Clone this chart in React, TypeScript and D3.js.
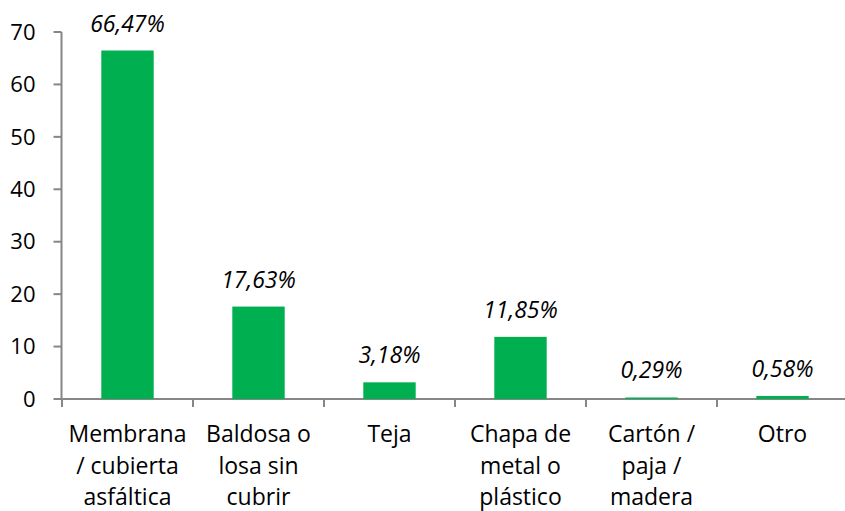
import React, { useRef, useEffect } from 'react';
import * as d3 from 'd3';

const categories = [
  'Membrana\n/ cubierta\nasfáltica',
  'Baldosa o\nlosa sin\ncubrir',
  'Teja',
  'Chapa de\nmetal o\nplástico',
  'Cartón /\npaja /\nmadera',
  'Otro',
];
const values = [66.47, 17.63, 3.18, 11.85, 0.29, 0.58];
const valueLabels = ['66,47%', '17,63%', '3,18%', '11,85%', '0,29%', '0,58%'];
const yTicks = [0, 10, 20, 30, 40, 50, 60, 70];

const WIDTH = 845;
const HEIGHT = 511;
const FONT = "'Open Sans', 'Liberation Sans', sans-serif";
const FS = 23;

const App = () => {
  const svgRef = useRef<SVGSVGElement | null>(null);

  useEffect(() => {
    if (!svgRef.current) return;
    const svg = d3.select(svgRef.current);
    svg.selectAll('*').remove();

    const x = d3.scaleBand<number>()
      .domain(d3.range(categories.length))
      .range([62, 848])
      .paddingInner(0.6)
      .paddingOuter(0.3);

    const y = d3.scaleLinear().domain([0, 70]).range([399, 32]);

    const axisColor = '#868686';

    // y axis
    const yAxis = svg.append('g').attr('transform', 'translate(61.5,0)');
    yAxis.append('line')
      .attr('y1', y(70)).attr('y2', y(0))
      .attr('stroke', axisColor).attr('stroke-width', 2);
    yTicks.forEach(t => {
      yAxis.append('line')
        .attr('x1', -8).attr('x2', 0)
        .attr('y1', y(t)).attr('y2', y(t))
        .attr('stroke', axisColor).attr('stroke-width', 2);
      yAxis.append('text')
        .attr('x', -26)
        .attr('y', y(t))
        .attr('dy', '0.35em')
        .attr('text-anchor', 'end')
        .attr('font-family', FONT)
        .attr('font-size', FS - 1)
        .attr('fill', '#000')
        .text(t);
    });

    // x axis
    const step = x.step();
    const xStart = x.range()[0];
    const xAxis = svg.append('g');
    xAxis.append('line')
      .attr('x1', xStart).attr('x2', WIDTH)
      .attr('y1', y(0)).attr('y2', y(0))
      .attr('stroke', axisColor).attr('stroke-width', 2);
    d3.range(categories.length + 1).forEach(i => {
      const tx = xStart + i * step;
      xAxis.append('line')
        .attr('x1', tx).attr('x2', tx)
        .attr('y1', y(0)).attr('y2', y(0) + 8)
        .attr('stroke', axisColor).attr('stroke-width', 2);
    });

    // bars
    svg.append('g')
      .selectAll('rect')
      .data(values)
      .enter()
      .append('rect')
      .attr('x', (_d, i) => x(i)!)
      .attr('y', d => y(d))
      .attr('width', x.bandwidth())
      .attr('height', d => y(0) - y(d))
      .attr('fill', '#00B050');

    // value labels
    svg.append('g')
      .selectAll('text')
      .data(values)
      .enter()
      .append('text')
      .attr('x', (_d, i) => x(i)! + x.bandwidth() / 2)
      .attr('y', d => y(d) - 19)
      .attr('text-anchor', 'middle')
      .attr('font-family', FONT)
      .attr('font-style', 'italic')
      .attr('font-size', FS)
      .attr('fill', '#000')
      .text((_d, i) => valueLabels[i]);

    // category labels
    const catG = svg.append('g');
    categories.forEach((c, i) => {
      const t = catG.append('text')
        .attr('x', x(i)! + x.bandwidth() / 2)
        .attr('y', 442)
        .attr('text-anchor', 'middle')
        .attr('font-family', FONT)
        .attr('font-size', FS)
        .attr('fill', '#000');
      c.split('\n').forEach((line, j) => {
        t.append('tspan')
          .attr('x', x(i)! + x.bandwidth() / 2)
          .attr('y', 442 + j * 31.5)
          .text(line);
      });
    });
  }, []);

  return (
    <svg
      ref={svgRef}
      width={WIDTH}
      height={HEIGHT}
      style={{ position: 'absolute', left: 0, top: 0, background: '#fff' }}
    />
  );
};

export default App;
